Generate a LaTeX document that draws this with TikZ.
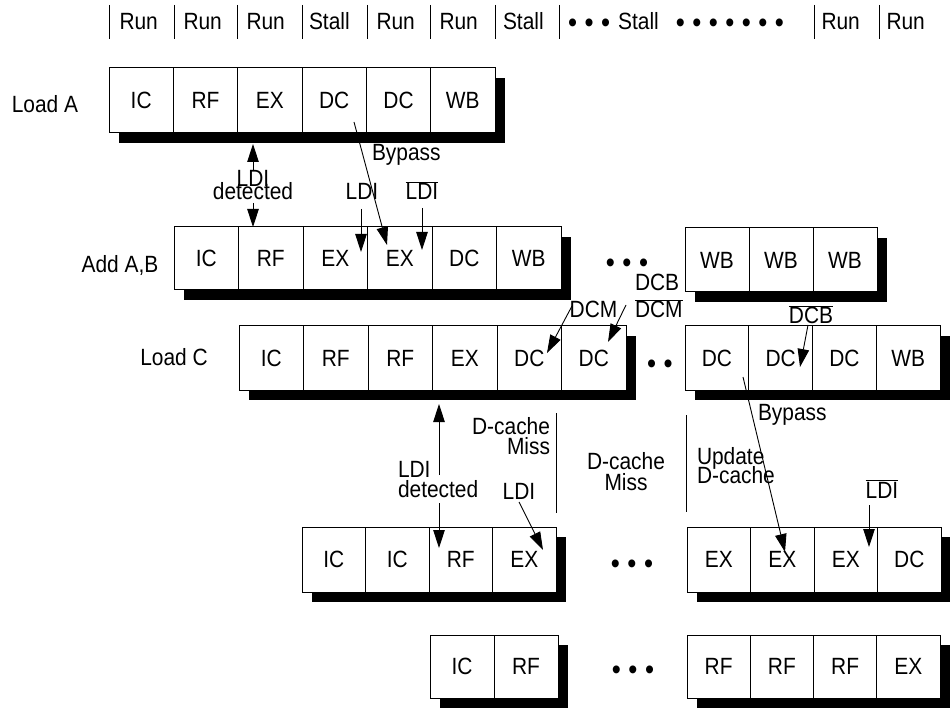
\documentclass[tikz,border=0pt]{standalone}
\usepackage{fontspec}
\setmainfont{Liberation Sans}[FakeStretch=0.89]
\usetikzlibrary{arrows.meta}
\newcommand\ds{\hspace{7.5pt}}
\newcommand\bul{{\fontsize{29}{29}\selectfont\raisebox{-2.2pt}{•}}}
\newcommand\ovl[1]{$\overline{\mbox{#1}}$}
% #1 name, #2 left, #3 right, #4 top, #5 bottom, #6 count, #7 labels
\newcommand\pipeline[7]{%
  \fill[black] ({#2+10},{#4+10}) rectangle ({#3+10},{#5+10});
  \foreach \lab [count=\i] in {#7} {%
    \node[cell, minimum width={((#3)-(#2))/(#6)*1pt}, minimum height={((#5)-(#4))*1pt}]
      (#1-\i) at ({#2+(\i-0.5)*((#3)-(#2))/(#6)},{((#4)+(#5))/2}) {\lab};
  }%
}
\begin{document}
\begin{tikzpicture}[x=1pt, y=-1pt,
  font=\fontsize{23.5}{26}\selectfont,
  cell/.style={draw, fill=white, line width=1pt, inner sep=0pt, outer sep=0pt},
  lbl/.style={inner sep=0pt, outer sep=0pt},
  arr/.style={-{Triangle[length=18pt,width=11.5pt]}, line width=0.9pt},
  tick/.style={line width=0.9pt}]
\useasboundingbox (0,0) rectangle (950,708);
\clip (0,0) rectangle (950,708);

% header
\foreach \x in {109,174,237,302,367,430,495,559,814,879}
  \draw[tick] (\x,5) -- (\x,39);
\node[lbl, anchor=base west] (h1) at (119.5,30) {Run};
\node[lbl, anchor=base west] (h2) at (183.5,30) {Run};
\node[lbl, anchor=base west] (h3) at (246.5,30) {Run};
\node[lbl, anchor=base west] (h4) at (309,30) {Stall};
\node[lbl, anchor=base west] (h5) at (376.5,30) {Run};
\node[lbl, anchor=base west] (h6) at (439.5,30) {Run};
\node[lbl, anchor=base west] (h7) at (503,30) {Stall};
\node[lbl, anchor=base west] (h8) at (568,30) {\bul\ds\bul\ds\bul\hspace{8pt}Stall\hspace{17pt}\bul\ds\bul\ds\bul\ds\bul\ds\bul\ds\bul\ds\bul};
\node[lbl, anchor=base west] (h9) at (821.5,30) {Run};
\node[lbl, anchor=base west] (h10) at (886.5,30) {Run};

% pipelines
\pipeline{la}{109}{495}{68}{133}{6}{IC,RF,EX,DC,DC,WB}
\pipeline{ab}{174}{561}{227}{290}{6}{IC,RF,EX,EX,DC,WB}
\pipeline{abr}{685}{877}{228}{292}{3}{WB,WB,WB}
\pipeline{lc}{239}{626}{326}{390}{6}{IC,RF,RF,EX,DC,DC}
\pipeline{lcr}{685}{940}{326}{390}{4}{DC,DC,DC,WB}
\pipeline{ra}{302}{556}{527}{592}{4}{IC,IC,RF,EX}
\pipeline{rar}{687}{941}{527}{592}{4}{EX,EX,EX,DC}
\pipeline{rb}{430}{558}{635}{698}{2}{IC,RF}
\pipeline{rbr}{687}{940}{635}{698}{4}{RF,RF,RF,EX}

% row labels
\node[lbl, anchor=base] (tLoadA) at (45,113) {Load A};
\node[lbl, anchor=base] (tAdd) at (120,273) {Add A,B};
\node[lbl, anchor=base] (tLoadC) at (174,366) {Load C};

% dots
\node[lbl, anchor=base] (d2) at (627,270) {\bul\ds\bul\ds\bul};
\node[lbl, anchor=base] (d3) at (660,371) {\bul\ds\bul};
\node[lbl, anchor=base] (d4) at (632,571) {\bul\ds\bul\ds\bul};
\node[lbl, anchor=base] (d5) at (633,677) {\bul\ds\bul\ds\bul};

% labels
\node[lbl, anchor=base] (ldi1) at (253,187) {LDI};
\node[lbl, anchor=base] (det1) at (253,200) {detected};
\node[lbl, anchor=base west] (byp1) at (372,161) {Bypass};
\node[lbl, anchor=base] (ldi2) at (362,200) {LDI};
\node[lbl, anchor=base] (nldi2) at (422,200) {\ovl{LDI}};
\node[lbl, anchor=base west] (dcb) at (635,291) {DCB};
\node[lbl, anchor=base west] (ndcm) at (635,318) {\ovl{DCM}};
\node[lbl, anchor=base] (dcm) at (593.5,318) {DCM};
\node[lbl, anchor=base] (ndcb) at (811,324) {\ovl{DCB}};
\node[lbl, anchor=base west] (byp2) at (758,420) {Bypass};
\node[lbl, anchor=base west] (ldi3) at (398,477) {LDI};
\node[lbl, anchor=base west] (det3) at (398,497) {detected};
\node[lbl, anchor=base east] (dca) at (550,434) {D-cache};
\node[lbl, anchor=base east] (missa) at (550,454) {Miss};
\node[lbl, anchor=base] (ldi4) at (519,499) {LDI};
\node[lbl, anchor=base] (dcb2) at (626,469) {D-cache};
\node[lbl, anchor=base] (missb) at (626,490) {Miss};
\node[lbl, anchor=base west] (upd) at (697,464) {Update};
\node[lbl, anchor=base west] (dcc) at (697,483) {D-cache};
\node[lbl, anchor=base] (nldi4) at (882,498) {\ovl{LDI}};

% separators
\draw[tick] (556,413) -- (556,513);
\draw[tick] (686,415) -- (686,512);

% arrow end points
\coordinate (a1s) at (253,170); \coordinate (a1e) at (253,144);
\coordinate (a2s) at (253,203); \coordinate (a2e) at (253,227);
\coordinate (b1s) at (354,122); \coordinate (b1e) at (387,245);
\coordinate (c1s) at (361,209); \coordinate (c1e) at (361,252);
\coordinate (c2s) at (422,208); \coordinate (c2e) at (422,250);
\coordinate (m1s) at (572,306); \coordinate (m1e) at (547,353);
\coordinate (m2s) at (626,305); \coordinate (m2e) at (608,342);
\coordinate (m3s) at (808,325); \coordinate (m3e) at (800,367);
\coordinate (b2s) at (743,377); \coordinate (b2e) at (785,552);
\coordinate (u1s) at (439,475); \coordinate (u1e) at (439,404);
\coordinate (u2s) at (439,503); \coordinate (u2e) at (439,548);
\coordinate (l4s) at (519,502); \coordinate (l4e) at (543,550);
\coordinate (l5s) at (869,505); \coordinate (l5e) at (869,547);

\draw[arr] (a1s) -- (a1e);
\draw[arr] (a2s) -- (a2e);
\draw[arr] (b1s) -- (b1e);
\draw[arr] (c1s) -- (c1e);
\draw[arr] (c2s) -- (c2e);
\draw[arr] (m1s) -- (m1e);
\draw[arr] (m2s) -- (m2e);
\draw[arr] (m3s) -- (m3e);
\draw[arr] (b2s) -- (b2e);
\draw[arr] (u1s) -- (u1e);
\draw[arr] (u2s) -- (u2e);
\draw[arr] (l4s) -- (l4e);
\draw[arr] (l5s) -- (l5e);
\end{tikzpicture}
\end{document}
